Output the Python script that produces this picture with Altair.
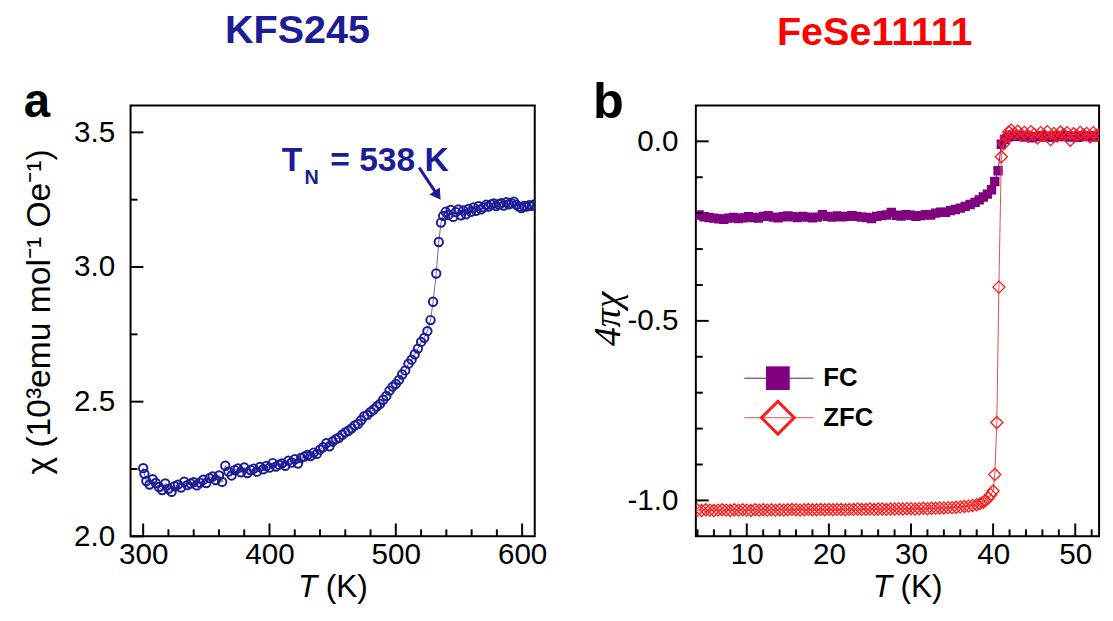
import altair as alt
import pandas as pd

# ---------------- data ----------------
# Panel a: KFS245, chi (10^3 emu/mol/Oe) vs T (K)
kfs_T = [300, 301, 302.5, 305, 307.5, 310, 312.5, 315, 317.5, 320, 322.5, 325, 327.5, 330, 332.5,
         335, 337.5, 340, 342.5, 345, 347.5, 350, 352.5, 355, 357.5, 360, 362.5, 365, 367.5, 370,
         372.5, 375, 377.5, 380, 382.5, 385, 387.5, 390, 392.5, 395, 397.5, 400, 402.5, 405, 407.5,
         410, 412.5, 415, 417.5, 420, 422.5, 425, 427.5, 430, 432.5, 435, 437.5, 440, 442.5, 445,
         447.5, 450, 452.5, 455, 457.5, 460, 462.5, 465, 467.5, 470, 472.5, 475, 477.5, 480, 482.5,
         485, 487.5, 490, 492.5, 495, 497.5, 500, 502.5, 505, 507.5, 510, 512.5, 515, 517.5, 520,
         522.5, 525, 527.5, 529.5, 532, 534, 535.8, 537.5,
         539.5, 541.5, 543.5, 545.5, 547.5, 549.5, 551.5, 553.5, 555.5, 557.5, 559.5, 561.5, 563.5,
         565.5, 567.5, 569.5, 571.5, 573.5, 575.5, 577.5, 579.5, 581.5, 583.5, 585.5, 587.5, 589.5,
         591.5, 593.5, 595.5, 597.5, 599.5, 601.5, 603.5, 605.5, 607.5, 609.5]
kfs_chi = [2.253, 2.232, 2.205, 2.192, 2.212, 2.198, 2.183, 2.172, 2.196, 2.176, 2.165, 2.186, 2.192, 2.181, 2.203,
           2.190, 2.196, 2.201, 2.189, 2.199, 2.210, 2.198, 2.216, 2.222, 2.209, 2.226, 2.202, 2.262, 2.240, 2.226,
           2.246, 2.252, 2.238, 2.256, 2.235, 2.246, 2.251, 2.240, 2.258, 2.249, 2.261, 2.255, 2.272, 2.259, 2.266,
           2.271, 2.262, 2.281, 2.274, 2.286, 2.270, 2.291, 2.296, 2.302, 2.298, 2.311, 2.306, 2.322, 2.331, 2.346,
           2.334, 2.352, 2.361, 2.366, 2.377, 2.386, 2.392, 2.401, 2.412, 2.417, 2.431, 2.446, 2.451, 2.462, 2.471,
           2.482, 2.492, 2.507, 2.521, 2.541, 2.556, 2.566, 2.581, 2.601, 2.616, 2.641, 2.656, 2.676, 2.697, 2.722,
           2.737, 2.762, 2.803, 2.871, 2.976, 3.093, 3.165, 3.190,
           3.205, 3.193, 3.212, 3.186, 3.204, 3.214, 3.192, 3.210, 3.196, 3.216, 3.205, 3.221, 3.209,
           3.226, 3.214, 3.222, 3.231, 3.224, 3.232, 3.236, 3.226, 3.233, 3.237, 3.228, 3.241, 3.233,
           3.237, 3.243, 3.231, 3.224, 3.219, 3.227, 3.224, 3.230, 3.227, 3.232]

# T_N arrow (data coordinates of panel a)
arrow_T = [518.5]
arrow_T2 = [533.1]
arrow_chi = [3.369]
arrow_chi2 = [3.266]
head_T = [533.1]
head_chi = [3.266]

# Panel b: FeSe11111, 4*pi*chi vs T (K)
fc_T = [4.2, 4.8, 5.4, 6.0, 6.6, 7.2, 7.8, 8.4, 9.0, 9.6, 10.2, 10.8, 11.4, 12.0, 12.6, 13.2, 13.8,
        14.4, 15.0, 15.6, 16.2, 16.8, 17.4, 18.0, 18.6, 19.2, 19.8, 20.4, 21.0, 21.6, 22.2, 22.8, 23.4,
        24.0, 24.6, 25.2, 25.8, 26.4, 27.0, 27.6, 28.2, 28.8, 29.4, 30.0, 30.6, 31.2, 31.8, 32.4, 33.0,
        33.6, 34.2, 34.8, 35.4, 36.0, 36.6, 37.2, 37.8, 38.3, 38.8, 39.3, 39.8, 40.2, 40.6, 41.0, 41.4,
        41.8, 42.3, 42.8, 43.3, 43.8, 44.3, 44.8, 45.3, 45.8, 46.3, 46.8, 47.3, 47.8, 48.3, 48.8, 49.3,
        49.8, 50.3, 50.8, 51.3, 51.8, 52.3, 52.8]
fc_val = [-0.205, -0.210, -0.212, -0.214, -0.216, -0.217, -0.214, -0.212, -0.215, -0.213, -0.210, -0.212,
          -0.214, -0.209, -0.207, -0.211, -0.213, -0.210, -0.208, -0.210, -0.212, -0.209, -0.211, -0.213,
          -0.211, -0.204, -0.209, -0.211, -0.208, -0.210, -0.209, -0.207, -0.209, -0.211, -0.212, -0.215,
          -0.209, -0.207, -0.205, -0.198, -0.206, -0.208, -0.204, -0.206, -0.209, -0.207, -0.204, -0.205,
          -0.200, -0.197, -0.198, -0.193, -0.190, -0.186, -0.181, -0.176, -0.170, -0.163, -0.155, -0.147,
          -0.135, -0.112, -0.082, -0.008, 0.005, 0.012, 0.018, 0.014, 0.016, 0.012, 0.015, 0.010, 0.013,
          0.016, 0.012, 0.014, 0.011, 0.015, 0.013, 0.016, 0.012, 0.014, 0.011, 0.015, 0.013, 0.016,
          0.012, 0.014]
zfc_T = [4.0, 4.5, 5.0, 5.5, 6.0, 6.5, 7.0, 7.5, 8.0, 8.5, 9.0, 9.5, 10.0, 10.5, 11.0, 11.5, 12.0,
         12.5, 13.0, 13.5, 14.0, 14.5, 15.0, 15.5, 16.0, 16.5, 17.0, 17.5, 18.0, 18.5, 19.0, 19.5, 20.0,
         20.5, 21.0, 21.5, 22.0, 22.5, 23.0, 23.5, 24.0, 24.5, 25.0, 25.5, 26.0, 26.5, 27.0, 27.5, 28.0,
         28.5, 29.0, 29.5, 30.0, 30.5, 31.0, 31.5, 32.0, 32.5, 33.0, 33.5, 34.0, 34.5, 35.0, 35.5, 36.0,
         36.5, 37.0, 37.5, 38.0, 38.4, 38.8, 39.1, 39.4, 39.7, 40.0, 40.2, 40.45, 40.7, 41.0, 41.3, 41.6,
         41.9, 42.2, 42.6, 43.0, 43.4, 43.8, 44.2, 44.6, 45.0, 45.4, 45.8, 46.2, 46.6, 47.0, 47.4, 47.8,
         48.2, 48.6, 49.0, 49.4, 49.8, 50.2, 50.6, 51.0, 51.4, 51.8, 52.2, 52.6, 53.0]
zfc_val = [-1.027, -1.028, -1.026, -1.027, -1.028, -1.027, -1.026, -1.027, -1.028, -1.026, -1.027, -1.026,
           -1.027, -1.028, -1.026, -1.027, -1.026, -1.027, -1.026, -1.027, -1.026, -1.027, -1.026, -1.025,
           -1.026, -1.027, -1.026, -1.025, -1.026, -1.026, -1.025, -1.026, -1.025, -1.026, -1.025, -1.025,
           -1.026, -1.025, -1.025, -1.024, -1.025, -1.025, -1.024, -1.025, -1.024, -1.024, -1.025, -1.024,
           -1.024, -1.023, -1.024, -1.023, -1.023, -1.024, -1.023, -1.022, -1.023, -1.022, -1.022, -1.021,
           -1.021, -1.020, -1.020, -1.019, -1.018, -1.017, -1.016, -1.014, -1.012, -1.009, -1.005, -1.000,
           -0.993, -0.984, -0.974, -0.928, -0.783, -0.406, -0.043, -0.006, 0.012, 0.026, 0.031, 0.022,
           0.028, 0.018, 0.025, 0.014, 0.027, 0.020, 0.009, 0.024, 0.017, 0.027, 0.005, 0.022, 0.015,
           0.026, 0.019, 0.024, 0.003, 0.021, 0.016, 0.025, 0.018, 0.022, 0.012, 0.024, 0.017, 0.021]

# tick values
x_major_a = [300, 400, 500, 600]
x_minor_a = [320, 340, 360, 380, 420, 440, 460, 480, 520, 540, 560, 580]
y_major_a = [2.0, 2.5, 3.0, 3.5]
y_minor_a = [2.25, 2.75, 3.25]
x_major_b = [10, 20, 30, 40, 50]
x_minor_b = [4, 6, 8, 12, 14, 16, 18, 22, 24, 26, 28, 32, 34, 36, 38, 42, 44, 46, 48, 52]
y_major_b = [-1.0, -0.5, 0.0]
y_minor_b = [-0.9, -0.8, -0.7, -0.6, -0.4, -0.3, -0.2, -0.1]

# ---------------- style ----------------
FONT = "Liberation Sans"
NAVY = "#1c1c96"
RED = "#ff1a1a"
PURPLE = "#800080"
W_A, W_B, H = 409, 408, 436
TICK_FS = 30
MAJ, MIN = 13, 7
XT_Y = 497  # baseline of the "T (K)" axis titles, relative to plot top


def label_axis(orient, values, fmt, pad):
    return alt.Axis(orient=orient, values=values, format=fmt, ticks=False, domain=False, grid=False,
                    labelFont=FONT, labelFontSize=TICK_FS, labelColor="black", labelPadding=pad,
                    labelFlush=False, labelOverlap=False, title=None)


def txt(s, x, y, size, **kw):
    props = dict(font=FONT, fontSize=size, color="black", align="left", baseline="alphabetic")
    props.update(kw)
    return alt.Chart(pd.DataFrame({"s": [s]})).mark_text(**props).encode(
        text="s:N", x=alt.value(x), y=alt.value(y))


# Secondary layers leave the axis unspecified so that they merge into the
# explicitly configured axis of the first layer.
def xticks(values, scale, length):
    return alt.Chart(pd.DataFrame({"T": values})).mark_rule(color="black", strokeWidth=2).encode(
        x=alt.X("T:Q", scale=scale), y=alt.value(H), y2=alt.value(H - length))


def yticks(values, scale, field, length):
    return alt.Chart(pd.DataFrame({field: values})).mark_rule(color="black", strokeWidth=2).encode(
        y=alt.Y(f"{field}:Q", scale=scale), x=alt.value(0), x2=alt.value(length))


def anchor(x1, x2, y):
    # invisible guide that fixes the layout bounds
    return alt.Chart(pd.DataFrame({"k": [0]})).mark_rule(opacity=0, strokeWidth=1).encode(
        x=alt.value(x1), x2=alt.value(x2), y=alt.value(y))


# ---------------- panel a ----------------
df_a = pd.DataFrame({"T": kfs_T, "chi": kfs_chi})
xs_a = alt.Scale(domain=[290, 610], nice=False, zero=False)
ys_a = alt.Scale(domain=[2.0, 3.6], nice=False, zero=False)

line_a = alt.Chart(df_a).mark_line(color="#6a6aa0", strokeWidth=1, clip=True).encode(
    x=alt.X("T:Q", scale=xs_a, axis=label_axis("bottom", x_major_a, "d", 4)),
    y=alt.Y("chi:Q", scale=ys_a, axis=label_axis("left", y_major_a, ".1f", 16)))
pts_a = alt.Chart(df_a).mark_point(shape="circle", filled=False, color=NAVY, strokeWidth=2,
                                   size=72, opacity=1, clip=True).encode(
    x=alt.X("T:Q", scale=xs_a), y=alt.Y("chi:Q", scale=ys_a))
arrow = alt.Chart(pd.DataFrame({"T": arrow_T, "T2": arrow_T2, "chi": arrow_chi, "chi2": arrow_chi2})).mark_rule(
    color=NAVY, strokeWidth=3).encode(
    x=alt.X("T:Q", scale=xs_a), x2="T2:Q",
    y=alt.Y("chi:Q", scale=ys_a), y2="chi2:Q")
head = alt.Chart(pd.DataFrame({"T": head_T, "chi": head_chi})).mark_point(
    shape="triangle-up", filled=True, color=NAVY, size=160, angle=146, opacity=1).encode(
    x=alt.X("T:Q", scale=xs_a), y=alt.Y("chi:Q", scale=ys_a))

cx_a = W_A / 2
panel_a = alt.layer(
    line_a, pts_a, arrow, head,
    xticks(x_major_a, xs_a, MAJ), xticks(x_minor_a, xs_a, MIN),
    yticks(y_major_a, ys_a, "chi", MAJ), yticks(y_minor_a, ys_a, "chi", MIN),
    anchor(-110, 430, -96),
    txt("T", 153, 66, 34, fontWeight="bold", color=NAVY),
    txt("N", 176, 80, 20, fontWeight="bold", color=NAVY),
    txt("= 538 K", 202, 66, 34, fontWeight="bold", color=NAVY),
    txt("a", -108, 12, 48, fontWeight="bold"),
    txt("KFS245", 169, -63, 40, fontWeight="bold", color=NAVY, align="center"),
    txt("χ (10³emu mol⁻¹ Oe⁻¹)", -91, 209, 34, angle=270, align="center", baseline="middle"),
    txt("T", cx_a - 35, XT_Y, 32, fontStyle="italic"),
    txt("(K)", cx_a - 7, XT_Y, 32),
).properties(width=W_A, height=H)

# ---------------- panel b ----------------
df_fc = pd.DataFrame({"T": fc_T, "v": fc_val})
df_zfc = pd.DataFrame({"T": zfc_T, "v": zfc_val})
xs_b = alt.Scale(domain=[3.8, 52.9], nice=False, zero=False)
ys_b = alt.Scale(domain=[-1.1, 0.1], nice=False, zero=False)

fc_line = alt.Chart(df_fc).mark_line(color=PURPLE, strokeWidth=1, clip=True).encode(
    x=alt.X("T:Q", scale=xs_b, axis=label_axis("bottom", x_major_b, "d", 4)),
    y=alt.Y("v:Q", scale=ys_b, axis=label_axis("left", y_major_b, ".1f", 18)))
fc_pts = alt.Chart(df_fc).mark_point(shape="square", filled=True, color=PURPLE, size=90,
                                     opacity=1, clip=True).encode(
    x=alt.X("T:Q", scale=xs_b), y=alt.Y("v:Q", scale=ys_b))
zfc_line = alt.Chart(df_zfc).mark_line(color="#e05050", strokeWidth=1, clip=True).encode(
    x=alt.X("T:Q", scale=xs_b), y=alt.Y("v:Q", scale=ys_b))
zfc_pts = alt.Chart(df_zfc).mark_point(shape="diamond", filled=False, color=RED, strokeWidth=1.3,
                                       size=150, opacity=1, clip=True).encode(
    x=alt.X("T:Q", scale=xs_b), y=alt.Y("v:Q", scale=ys_b))

one = pd.DataFrame({"k": [0]})
leg_fc_line = alt.Chart(one).mark_rule(color=PURPLE, strokeWidth=1).encode(
    x=alt.value(49), x2=alt.value(119), y=alt.value(276))
leg_fc_sym = alt.Chart(one).mark_point(shape="square", filled=True, color=PURPLE, size=576, opacity=1).encode(
    x=alt.value(83), y=alt.value(276))
leg_zfc_line = alt.Chart(one).mark_rule(color="#e05050", strokeWidth=1).encode(
    x=alt.value(49), x2=alt.value(119), y=alt.value(316))
leg_zfc_sym = alt.Chart(one).mark_point(shape="diamond", filled=False, color=RED, strokeWidth=3,
                                        size=1100, opacity=1).encode(x=alt.value(83), y=alt.value(316))

panel_b = alt.layer(
    fc_line, fc_pts, zfc_line, zfc_pts,
    xticks(x_major_b, xs_b, MAJ), xticks(x_minor_b, xs_b, MIN),
    yticks(y_major_b, ys_b, "v", MAJ), yticks(y_minor_b, ys_b, "v", MIN),
    anchor(-110, 0, -96),
    leg_fc_line, leg_fc_sym, leg_zfc_line, leg_zfc_sym,
    txt("FC", 129, 276, 26, fontWeight="bold", baseline="middle"),
    txt("ZFC", 129, 316, 26, fontWeight="bold", baseline="middle"),
    txt("b", -104, 13, 51, fontWeight="bold"),
    txt("FeSe11111", 181, -61, 40, fontWeight="bold", color="#ff0000", align="center"),
    txt("4πχ", -88, 216, 38, font="Liberation Serif", fontStyle="italic", angle=270,
        align="center", baseline="middle"),
    txt("T", 214 - 35, XT_Y, 32, fontStyle="italic"),
    txt("(K)", 214 - 7, XT_Y, 32),
).properties(width=W_B, height=H)

chart = alt.hconcat(panel_a, panel_b, spacing=30).properties(
    padding={"left": 13, "top": -2, "right": 5, "bottom": 5}
).configure(
    locale={"number": {"decimal": ".", "thousands": ",", "grouping": [3],
                       "currency": ["", ""], "minus": "-"}}
).configure_view(stroke="black", strokeWidth=2)

chart.save("out.html", embed_options={"renderer": "svg", "actions": False})
